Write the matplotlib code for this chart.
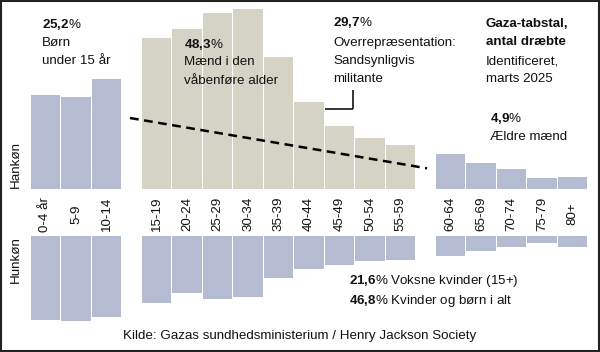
import matplotlib
matplotlib.use("Agg")
import matplotlib.pyplot as plt
from matplotlib.patches import Rectangle

plt.rcParams['font.family'] = ['Liberation Sans', 'DejaVu Sans']
plt.rcParams['mathtext.fontset'] = 'custom'
plt.rcParams['mathtext.rm'] = 'Liberation Sans'
plt.rcParams['mathtext.bf'] = 'Liberation Sans:bold'

# ---- data (relative heights) ----
age_groups = ["0-4 år", "5-9", "10-14",
              "15-19", "20-24", "25-29", "30-34", "35-39", "40-44", "45-49", "50-54", "55-59",
              "60-64", "65-69", "70-74", "75-79", "80+"]
male = [94.6, 92.6, 110.3,
        151, 160, 176, 180, 132, 87.6, 63.6, 51.3, 44,
        35.3, 26, 20.3, 11.3, 12.3]
female = [84, 84.7, 80.7,
          67.3, 57.3, 63.3, 60.7, 42.3, 33, 29, 25, 24,
          20, 14.7, 11.3, 7.3, 11]
group_sizes = [3, 9, 5]          # children / fighting-age men / elderly
male_colors = ["#b5bbd1", "#d5d3c5", "#b5bbd1"]
female_color = "#b5bbd1"

W, H = 600, 352
fig = plt.figure(figsize=(W / 100, H / 100), dpi=100)
fig.patch.set_facecolor("white")

# bar axes: 1 x-unit = one bar slot, 1 y-unit = 1 px
px_per_unit = 30.5
x0_px = 45.5
base_px = 189.3
ax = fig.add_axes([0, 0, 1, 1])
ax.set_xlim(-x0_px / px_per_unit, (W - x0_px) / px_per_unit)
ax.set_ylim(-(H - base_px), base_px)
ax.axis("off")

fs = 9.6
gap = 0.64
female_offset = 46.7
positions = []
start = 0.0
for gi, n in enumerate(group_sizes):
    for i in range(n):
        positions.append((start + i, gi))
    start += n + gap

for (x, gi), m, f, lab in zip(positions, male, female, age_groups):
    ax.bar(x, m, width=0.96, bottom=0, color=male_colors[gi], linewidth=0)
    ax.bar(x, -f, width=0.96, bottom=-female_offset, color=female_color, linewidth=0)
    ax.text(x, -(214 - base_px), lab, rotation=90, ha="center", va="center",
            fontsize=fs, color="#111111")

# overlay axes in pixel coordinates for annotations
ov = fig.add_axes([0, 0, 1, 1])
ov.set_xlim(0, W)
ov.set_ylim(H, 0)
ov.axis("off")
ov.patch.set_alpha(0)


def num_pct(x, y, num, rest):
    num_tex = num.replace(",", "{,}")
    rest_tex = rest.replace("%", r"\%")
    ov.text(x, y, r"$\mathbf{" + num_tex + "}$" + rest, fontsize=fs,
            va="center", ha="left", color="#111111")


def plain(x, y, s, bold=False):
    ov.text(x, y, s, fontsize=fs, fontweight="bold" if bold else "normal",
            va="center", ha="left", color="#111111")


num_pct(42, 24, "25,2", "%")
plain(42, 43, "Børn")
plain(42, 61, "under 15 år")

num_pct(184, 44, "48,3", "%")
plain(184, 62, "Mænd i den")
plain(184, 81, "våbenføre alder")

num_pct(333, 23, "29,7", "%")
plain(333, 43, "Overrepræsentation:")
plain(333, 61, "Sandsynligvis")
plain(333, 79, "militante")

plain(486, 24, "Gaza-tabstal,", bold=True)
plain(486, 42, "antal dræbte", bold=True)
plain(486, 61, "Identificeret,")
plain(486, 79, "marts 2025")

num_pct(490, 118, "4,9", "%")
plain(490, 137, "Ældre mænd")

num_pct(349, 281, "21,6", "% Voksne kvinder (15+)")
num_pct(349, 301, "46,8", "% Kvinder og børn i alt")

ov.text(300, 336, "Kilde: Gazas sundhedsministerium / Henry Jackson Society",
        fontsize=fs, ha="center", va="center", color="#111111")

ov.text(15.5, 164, "Hankøn", rotation=90, fontsize=fs, ha="center", va="center", color="#111111")
ov.text(15.5, 260, "Hunkøn", rotation=90, fontsize=fs, ha="center", va="center", color="#111111")

# dashed trend line and connector
ov.plot([130, 427], [118, 168.3], color="black", lw=1.8, dashes=(3.5, 2.2))
ov.plot([325, 353], [108.5, 108.5], color="black", lw=1.1, solid_capstyle="butt")
ov.plot([353, 353], [108.5, 90], color="black", lw=1.1, solid_capstyle="butt")

# frame
fig.patches.append(Rectangle((1 / W, 1 / H), 1 - 2 / W, 1 - 2 / H, transform=fig.transFigure,
                             fill=False, edgecolor="#222222", linewidth=1.5))

fig.savefig("out.png", dpi=100)
